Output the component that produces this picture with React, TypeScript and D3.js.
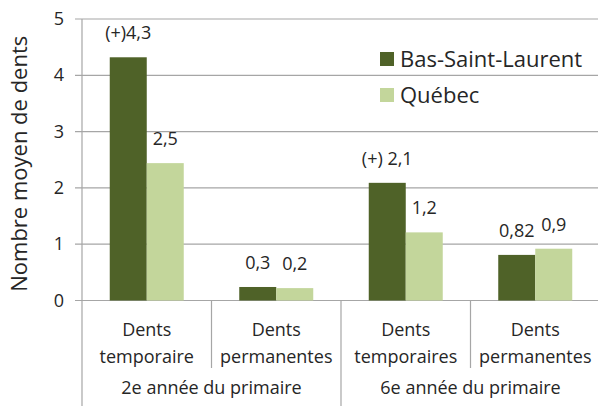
import * as d3 from 'd3'

const categoryLines = [
  ['Dents', 'temporaire'],
  ['Dents', 'permanentes'],
  ['Dents', 'temporaires'],
  ['Dents', 'permanentes'],
]
const groups = ['2e année du primaire', '6e année du primaire']
const series = ['Bas-Saint-Laurent', 'Québec']
const basValues = [4.32, 0.24, 2.09, 0.81]
const quebecValues = [2.44, 0.22, 1.21, 0.92]
const basLabels = ['(+)4,3', '0,3', '(+) 2,1', '0,82']
const quebecLabels = ['2,5', '0,2', '1,2', '0,9']
const yTicks = [0, 1, 2, 3, 4, 5]

const colors = ['#4F6228', '#C3D69B']
const gridColor = '#A6A6A6'
const textColor = '#262626'
const font = '"Open Sans", sans-serif'

export default function App() {
  const width = 598
  const height = 406
  const left = 82
  const right = 600
  const top = 19
  const bottom = 300.5

  const x0 = d3
    .scaleBand<number>()
    .domain(d3.range(categoryLines.length))
    .range([left, right])
    .padding(0)
  const x1 = d3
    .scaleBand<string>()
    .domain(series)
    .range([0, x0.bandwidth()])
    .paddingInner(0)
    .paddingOuter(0.75)
  const y = d3.scaleLinear().domain([0, 5]).range([bottom, top])

  const values = [basValues, quebecValues]
  const labels = [basLabels, quebecLabels]

  return (
    <svg
      width={width}
      height={height}
      style={{ position: 'absolute', left: 0, top: 0, fontFamily: font }}
    >
      {/* grid lines + ticks */}
      {yTicks.map((t) => (
        <g key={t}>
          <line x1={left - 7} x2={right} y1={y(t)} y2={y(t)} stroke={gridColor} strokeWidth={1.2} />
          <text x={left - 18} y={y(t) + 6} textAnchor="end" fontSize={18} fill={textColor}>
            {t}
          </text>
        </g>
      ))}
      <line x1={left} x2={left} y1={top} y2={height} stroke={gridColor} strokeWidth={1.2} />

      {/* category separators */}
      {d3.range(1, categoryLines.length).map((i) => (
        <line
          key={i}
          x1={x0(i)!}
          x2={x0(i)!}
          y1={bottom}
          y2={i % 2 === 0 ? height : 368}
          stroke={gridColor}
          strokeWidth={1.2}
        />
      ))}

      {/* bars */}
      {series.map((s, si) =>
        values[si].map((v, ci) => (
          <rect
            key={s + ci}
            x={x0(ci)! + x1(s)!}
            y={y(v)}
            width={x1.bandwidth()}
            height={bottom - y(v)}
            fill={colors[si]}
          />
        )),
      )}

      {/* value labels */}
      {series.map((s, si) =>
        values[si].map((v, ci) => (
          <text
            key={'l' + s + ci}
            x={x0(ci)! + x1(s)! + x1.bandwidth() / 2}
            y={y(v) - 18}
            textAnchor="middle"
            fontSize={18}
            fill={textColor}
          >
            {labels[si][ci]}
          </text>
        )),
      )}

      {/* category labels */}
      {categoryLines.map((lines, ci) => (
        <text key={'c' + ci} textAnchor="middle" fontSize={18} fill={textColor}>
          {lines.map((ln, li) => (
            <tspan key={li} x={x0(ci)! + x0.bandwidth() / 2} y={336 + li * 26.5}>
              {ln}
            </tspan>
          ))}
        </text>
      ))}

      {/* group labels */}
      {groups.map((g, gi) => (
        <text
          key={g}
          x={x0(gi * 2)! + x0.bandwidth()}
          y={394}
          textAnchor="middle"
          fontSize={18}
          fill={textColor}
        >
          {g}
        </text>
      ))}

      {/* y axis title */}
      <text
        transform={`translate(27,${(top + bottom) / 2 + 4}) rotate(-90)`}
        textAnchor="middle"
        fontSize={22}
        fill={textColor}
      >
        Nombre moyen de dents
      </text>

      {/* legend */}
      {series.map((s, si) => (
        <g key={'lg' + s} transform={`translate(380,${52 + si * 36})`}>
          <rect x={0} y={0} width={14} height={14} fill={colors[si]} />
          <text x={20} y={15} fontSize={22} fill={textColor}>
            {s}
          </text>
        </g>
      ))}
    </svg>
  )
}
